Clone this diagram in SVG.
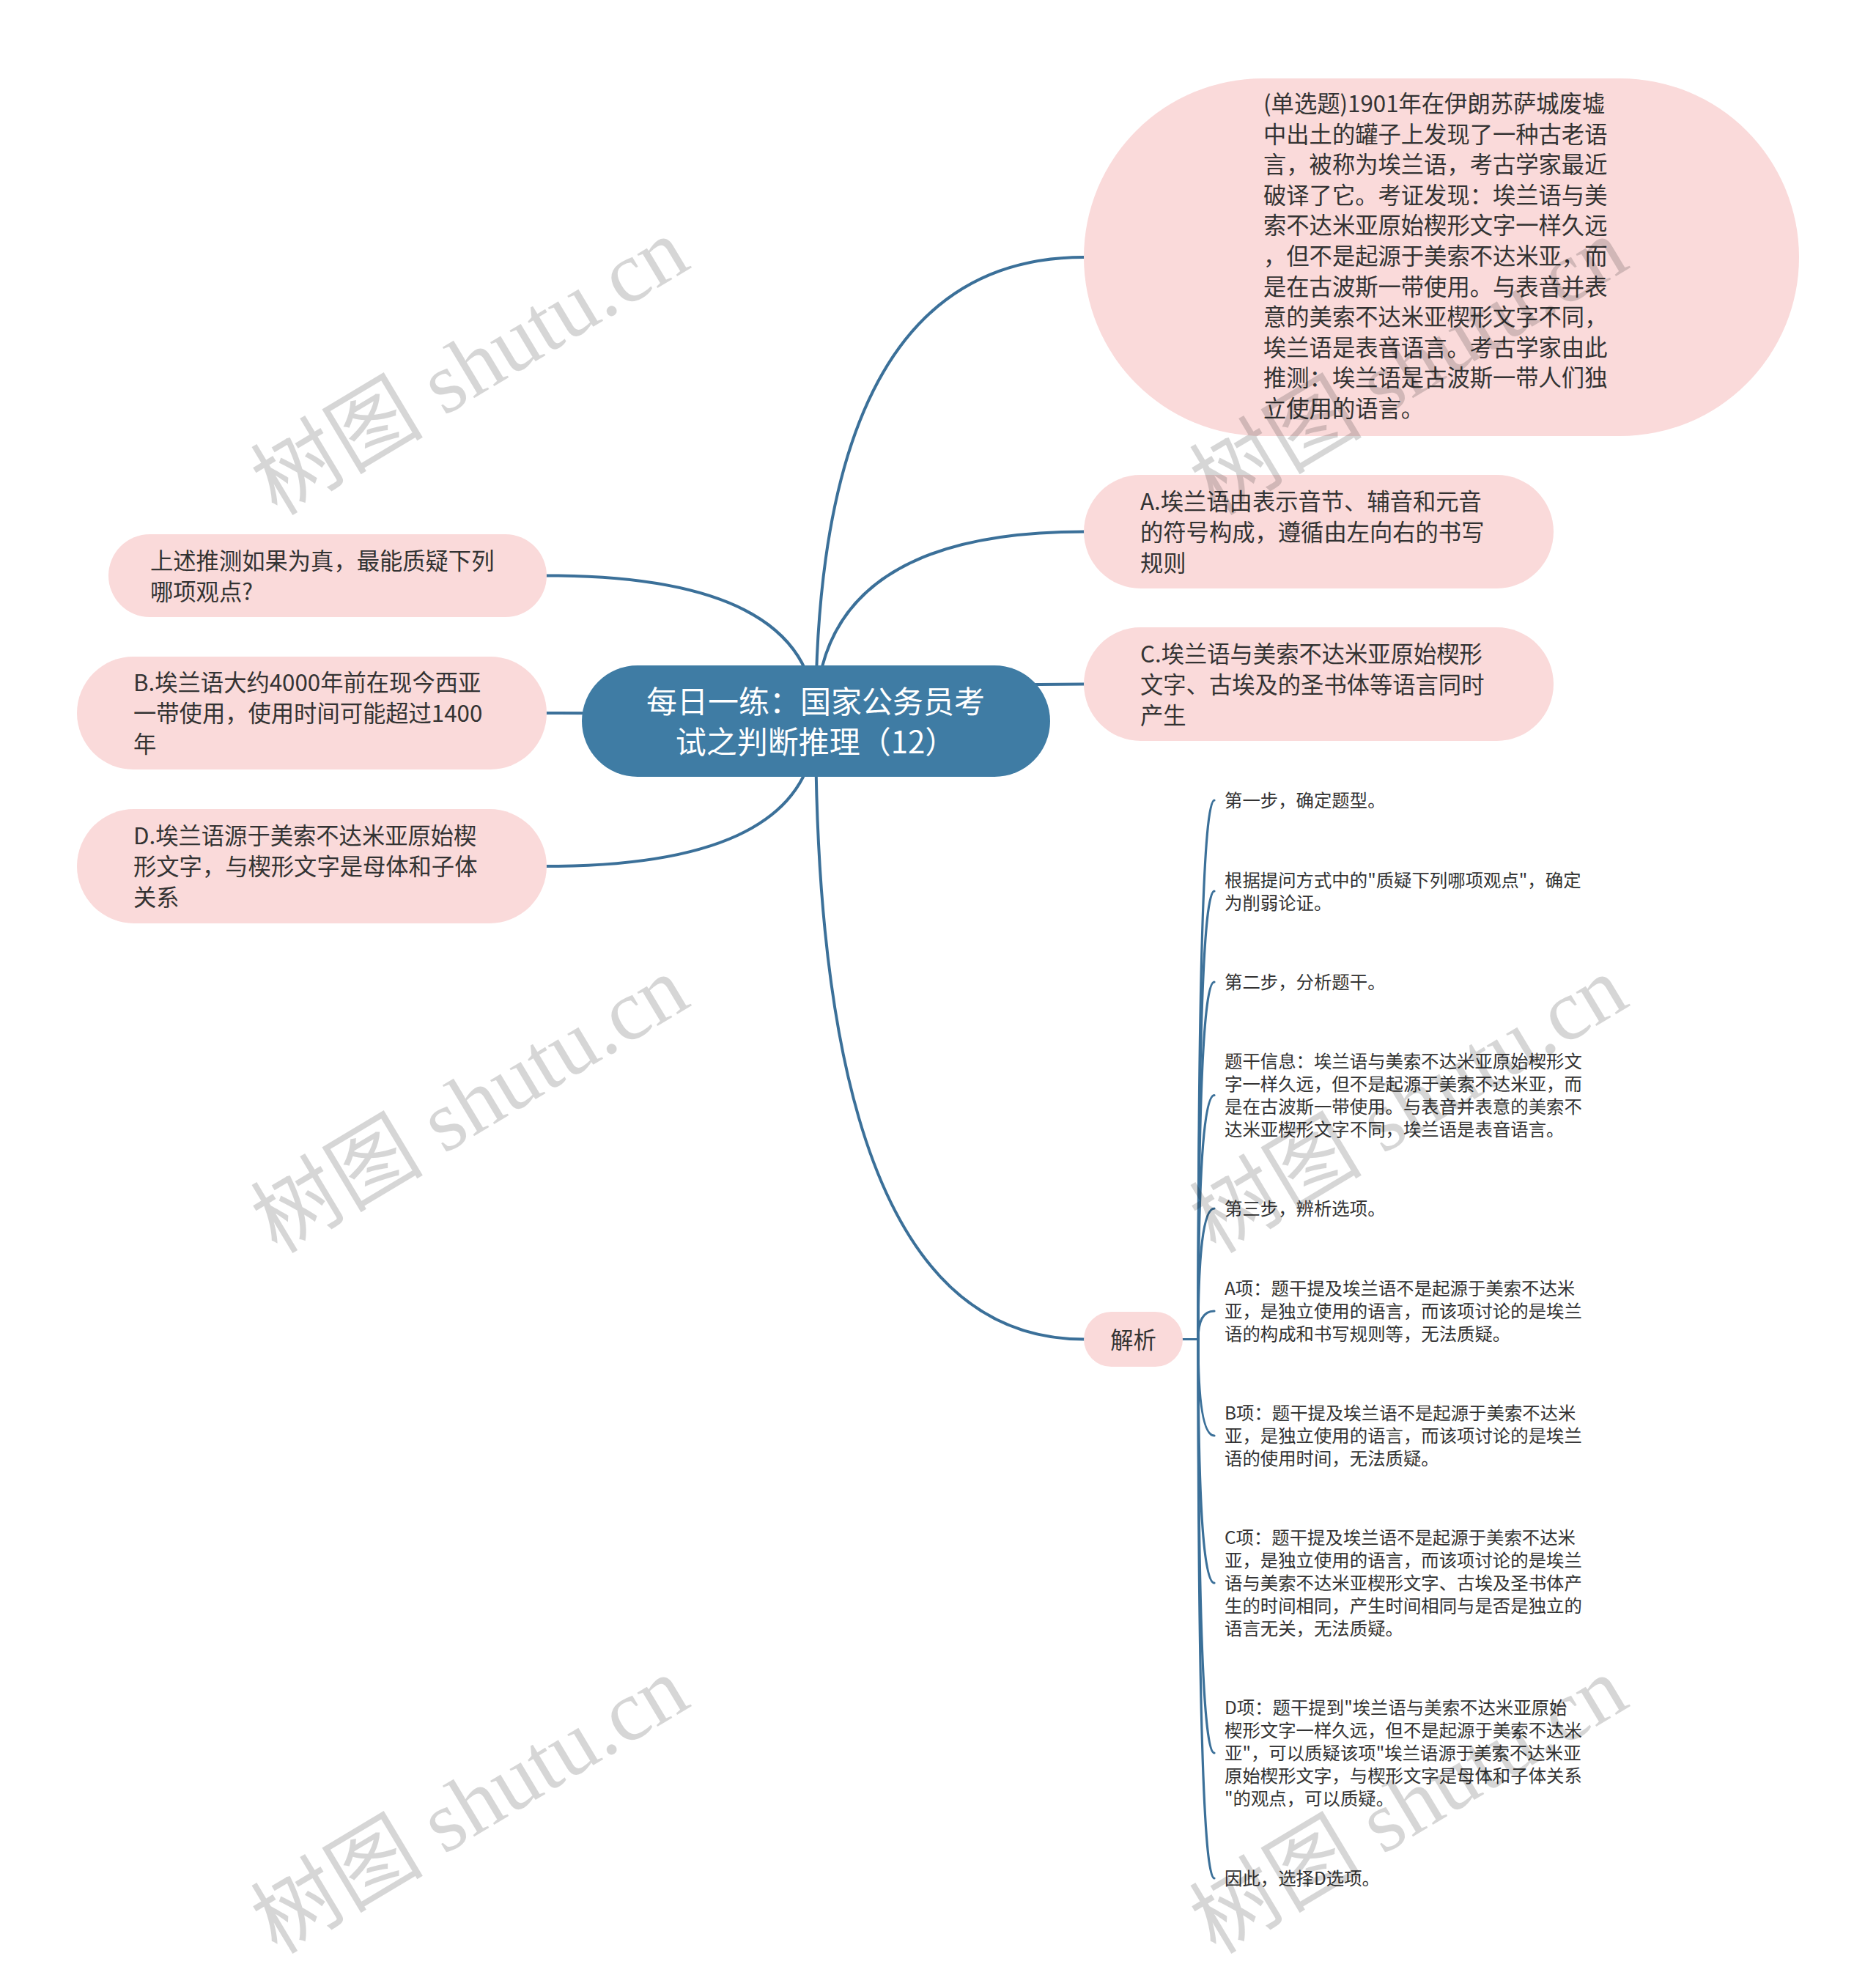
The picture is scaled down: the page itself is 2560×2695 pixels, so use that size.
<svg xmlns="http://www.w3.org/2000/svg" width="2560" height="2695" viewBox="0 0 2560 2695">
<style>
.bg{fill:#ffffff}
.pink{fill:#fadada}
.root{fill:#3f7ca4}
.t{font-family:"Noto Sans CJK SC","Noto Sans",sans-serif;fill:#333333}
.tl{font-size:31.3px}
.ts{font-size:24.4px}
.tr{font-family:"Noto Sans CJK SC","Noto Sans",sans-serif;fill:#ffffff;font-size:42px;text-anchor:middle}
.c{fill:none;stroke:#3b7099;stroke-width:4;stroke-linecap:round}
.cs{fill:none;stroke:#3b7099;stroke-width:3.2;stroke-linecap:round}
.wm{font-family:"Liberation Serif","Noto Sans CJK SC",serif;font-size:118px;fill:#000000;fill-opacity:0.16}
</style>
<rect class="bg" x="0" y="0" width="2560" height="2695"/>

<g id="connectors">
  <path class="c" d="M1113,984 Q1113,351 1479,351"/>
  <path class="c" d="M1113,984 Q1113,725.5 1479,725.5"/>
  <path class="c" d="M1113,984 Q1113,933.5 1479,933.5"/>
  <path class="c" d="M1113,984 Q1113,1827.5 1479,1827.5"/>
  <path class="c" d="M1113,984 Q1113,785.5 746,785.5"/>
  <path class="c" d="M1113,984 Q1113,973 746,973"/>
  <path class="c" d="M1113,984 Q1113,1182 746,1182"/>
  <path class="cs" d="M1613,1827.5 L1635,1827.5"/>
  <path class="cs" d="M1635,1827.5 Q1635,1092 1657,1092"/>
  <path class="cs" d="M1635,1827.5 Q1635,1216 1657,1216"/>
  <path class="cs" d="M1635,1827.5 Q1635,1340 1657,1340"/>
  <path class="cs" d="M1635,1827.5 Q1635,1494.5 1657,1494.5"/>
  <path class="cs" d="M1635,1827.5 Q1635,1649 1657,1649"/>
  <path class="cs" d="M1635,1827.5 Q1635,1789 1657,1789"/>
  <path class="cs" d="M1635,1827.5 Q1635,1959 1657,1959"/>
  <path class="cs" d="M1635,1827.5 Q1635,2160 1657,2160"/>
  <path class="cs" d="M1635,1827.5 Q1635,2392 1657,2392"/>
  <path class="cs" d="M1635,1827.5 Q1635,2563 1657,2563"/>
</g>

<g id="root">
  <rect class="root" x="794" y="908" width="639" height="152" rx="76" ry="76"/>
  <text class="tr" x="1113" y="973">每日一练：国家公务员考</text>
  <text class="tr" x="1113" y="1028">试之判断推理（12）</text>
</g>

<g id="question">
  <rect class="pink" x="1479" y="107" width="976" height="488" rx="244" ry="244"/>
  <text class="t tl" x="1724">
    <tspan x="1724" y="153">(单选题)1901年在伊朗苏萨城废墟</tspan>
    <tspan x="1724" y="194.6">中出土的罐子上发现了一种古老语</tspan>
    <tspan x="1724" y="236.2">言，被称为埃兰语，考古学家最近</tspan>
    <tspan x="1724" y="277.8">破译了它。考证发现：埃兰语与美</tspan>
    <tspan x="1724" y="319.4">索不达米亚原始楔形文字一样久远</tspan>
    <tspan x="1724" y="361">，但不是起源于美索不达米亚，而</tspan>
    <tspan x="1724" y="402.6">是在古波斯一带使用。与表音并表</tspan>
    <tspan x="1724" y="444.2">意的美索不达米亚楔形文字不同，</tspan>
    <tspan x="1724" y="485.8">埃兰语是表音语言。考古学家由此</tspan>
    <tspan x="1724" y="527.4">推测：埃兰语是古波斯一带人们独</tspan>
    <tspan x="1724" y="569">立使用的语言。</tspan>
  </text>
</g>

<g id="optA">
  <rect class="pink" x="1479" y="648" width="641" height="155" rx="77.5" ry="77.5"/>
  <text class="t tl">
    <tspan x="1556" y="695.5">A.埃兰语由表示音节、辅音和元音</tspan>
    <tspan x="1556" y="737.5">的符号构成，遵循由左向右的书写</tspan>
    <tspan x="1556" y="779.5">规则</tspan>
  </text>
</g>

<g id="optC">
  <rect class="pink" x="1479" y="856" width="641" height="155" rx="77.5" ry="77.5"/>
  <text class="t tl">
    <tspan x="1556" y="903.5">C.埃兰语与美索不达米亚原始楔形</tspan>
    <tspan x="1556" y="945.5">文字、古埃及的圣书体等语言同时</tspan>
    <tspan x="1556" y="987.5">产生</tspan>
  </text>
</g>

<g id="askQ">
  <rect class="pink" x="148" y="729" width="598" height="113" rx="56.5" ry="56.5"/>
  <text class="t tl">
    <tspan x="205" y="776.5">上述推测如果为真，最能质疑下列</tspan>
    <tspan x="205" y="818.5">哪项观点?</tspan>
  </text>
</g>

<g id="optB">
  <rect class="pink" x="105" y="896" width="641" height="154" rx="77" ry="77"/>
  <text class="t tl">
    <tspan x="182" y="943">B.埃兰语大约4000年前在现今西亚</tspan>
    <tspan x="182" y="985">一带使用，使用时间可能超过1400</tspan>
    <tspan x="182" y="1027">年</tspan>
  </text>
</g>

<g id="optD">
  <rect class="pink" x="105" y="1104" width="641" height="156" rx="78" ry="78"/>
  <text class="t tl">
    <tspan x="182" y="1152">D.埃兰语源于美索不达米亚原始楔</tspan>
    <tspan x="182" y="1194">形文字，与楔形文字是母体和子体</tspan>
    <tspan x="182" y="1236">关系</tspan>
  </text>
</g>

<g id="analysis">
  <rect class="pink" x="1479" y="1790" width="135" height="75" rx="37.5" ry="37.5"/>
  <text class="t tl" x="1546.5" y="1839.5" text-anchor="middle">解析</text>
</g>

<g id="a1"><text class="t ts"><tspan x="1671" y="1101.3">第一步，确定题型。</tspan></text></g>
<g id="a2"><text class="t ts">
  <tspan x="1671" y="1209.6">根据提问方式中的"质疑下列哪项观点"，确定</tspan>
  <tspan x="1671" y="1240.6">为削弱论证。</tspan>
</text></g>
<g id="a3"><text class="t ts"><tspan x="1671" y="1349.3">第二步，分析题干。</tspan></text></g>
<g id="a4"><text class="t ts">
  <tspan x="1671" y="1457.3">题干信息：埃兰语与美索不达米亚原始楔形文</tspan>
  <tspan x="1671" y="1488.3">字一样久远，但不是起源于美索不达米亚，而</tspan>
  <tspan x="1671" y="1519.3">是在古波斯一带使用。与表音并表意的美索不</tspan>
  <tspan x="1671" y="1550.3">达米亚楔形文字不同，埃兰语是表音语言。</tspan>
</text></g>
<g id="a5"><text class="t ts"><tspan x="1671" y="1658.3">第三步，辨析选项。</tspan></text></g>
<g id="a6"><text class="t ts">
  <tspan x="1671" y="1767.3">A项：题干提及埃兰语不是起源于美索不达米</tspan>
  <tspan x="1671" y="1798.3">亚，是独立使用的语言，而该项讨论的是埃兰</tspan>
  <tspan x="1671" y="1829.3">语的构成和书写规则等，无法质疑。</tspan>
</text></g>
<g id="a7"><text class="t ts">
  <tspan x="1671" y="1937.3">B项：题干提及埃兰语不是起源于美索不达米</tspan>
  <tspan x="1671" y="1968.3">亚，是独立使用的语言，而该项讨论的是埃兰</tspan>
  <tspan x="1671" y="1999.3">语的使用时间，无法质疑。</tspan>
</text></g>
<g id="a8"><text class="t ts">
  <tspan x="1671" y="2107.3">C项：题干提及埃兰语不是起源于美索不达米</tspan>
  <tspan x="1671" y="2138.3">亚，是独立使用的语言，而该项讨论的是埃兰</tspan>
  <tspan x="1671" y="2169.3">语与美索不达米亚楔形文字、古埃及圣书体产</tspan>
  <tspan x="1671" y="2200.3">生的时间相同，产生时间相同与是否是独立的</tspan>
  <tspan x="1671" y="2231.3">语言无关，无法质疑。</tspan>
</text></g>
<g id="a9"><text class="t ts">
  <tspan x="1671" y="2339.3">D项：题干提到"埃兰语与美索不达米亚原始</tspan>
  <tspan x="1671" y="2370.3">楔形文字一样久远，但不是起源于美索不达米</tspan>
  <tspan x="1671" y="2401.3">亚"，可以质疑该项"埃兰语源于美索不达米亚</tspan>
  <tspan x="1671" y="2432.3">原始楔形文字，与楔形文字是母体和子体关系</tspan>
  <tspan x="1671" y="2463.3">"的观点，可以质疑。</tspan>
</text></g>
<g id="a10"><text class="t ts"><tspan x="1671" y="2572.3">因此，选择D选项。</tspan></text></g>

<g id="watermarks">
  <text class="wm" transform="translate(378,705) rotate(-31)">树图 shutu.cn</text>
  <text class="wm" transform="translate(378,1712) rotate(-31)">树图 shutu.cn</text>
  <text class="wm" transform="translate(378,2668) rotate(-31)">树图 shutu.cn</text>
  <text class="wm" transform="translate(1659,705) rotate(-31)">树图 shutu.cn</text>
  <text class="wm" transform="translate(1659,1712) rotate(-31)">树图 shutu.cn</text>
  <text class="wm" transform="translate(1659,2668) rotate(-31)">树图 shutu.cn</text>
</g>
</svg>
